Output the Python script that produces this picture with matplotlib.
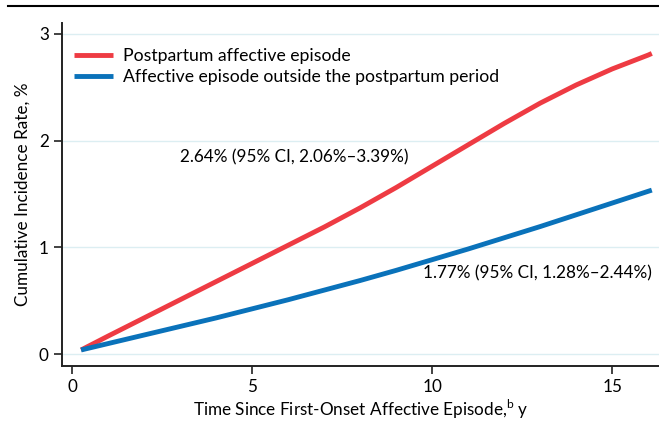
import matplotlib
matplotlib.use("Agg")
import matplotlib.pyplot as plt

plt.rcParams['font.family'] = ['Lato', 'DejaVu Sans']
plt.rcParams['mathtext.fontset'] = 'custom'
plt.rcParams['mathtext.rm'] = 'Lato'

# data
years = [0.25, 1, 2, 3, 4, 5, 6, 7, 8, 9, 10, 11, 12, 13, 14, 15, 16, 16.1]
postpartum = [0.04, 0.17, 0.34, 0.51, 0.68, 0.85, 1.02, 1.19, 1.37, 1.56, 1.76, 1.96, 2.16, 2.35,
              2.52, 2.67, 2.80, 2.815]
outside = [0.04, 0.10, 0.18, 0.26, 0.34, 0.425, 0.51, 0.60, 0.69, 0.785, 0.885, 0.985, 1.09, 1.195,
           1.305, 1.415, 1.525, 1.536]
series_labels = ["Postpartum affective episode", "Affective episode outside the postpartum period"]
annot_pp = "2.64% (95% CI, 2.06%–3.39%)"
annot_out = "1.77% (95% CI, 1.28%–2.44%)"
xticks = [0, 5, 10, 15]
yticks = [0, 1, 2, 3]

red = '#EE3B43'
blue = '#0A72BA'
fs = 12.3

fig = plt.figure(figsize=(6.59, 4.23), dpi=100)
ax = fig.add_axes([62/659, (423-366)/423, 1 - 62/659, (366-23)/423])

for yv in yticks:
    ax.axhline(yv, color='#DCEEF2', lw=1.0, zorder=0)

ax.plot(years, postpartum, color=red, lw=3.5, solid_capstyle='butt', solid_joinstyle='round',
        label=series_labels[0])
ax.plot(years, outside, color=blue, lw=3.5, solid_capstyle='butt', solid_joinstyle='round',
        label=series_labels[1])

ax.set_xlim(-0.28, 16.3)
ax.set_ylim(-0.11, 3.1)
ax.set_xticks(xticks)
ax.set_yticks(yticks)
ax.tick_params(axis='both', direction='out', length=6, width=1.2, labelsize=fs, color='#222222')
for s in ['top', 'right']:
    ax.spines[s].set_visible(False)
for s in ['left', 'bottom']:
    ax.spines[s].set_linewidth(1.4)
    ax.spines[s].set_color('#222222')

ax.set_ylabel("Cumulative Incidence Rate, %", fontsize=fs, labelpad=6)
ax.set_xlabel(r"Time Since First-Onset Affective Episode,$^{\mathrm{b}}$ y", fontsize=fs, labelpad=2)

leg = ax.legend(loc='upper left', bbox_to_anchor=(0.0, 0.962), frameon=False, fontsize=12.7,
                handlelength=2.2, handletextpad=0.55, labelspacing=0.25, borderaxespad=0.3)

ax.text(3.0, 1.84, annot_pp, fontsize=fs, va='center', ha='left')
ax.text(9.75, 0.76, annot_out, fontsize=fs, va='center', ha='left')

fig.add_artist(plt.Line2D([8/659, 1.0], [1 - 6/423, 1 - 6/423], color='black', lw=1.5,
                          transform=fig.transFigure))

fig.savefig("out.png", dpi=100)
